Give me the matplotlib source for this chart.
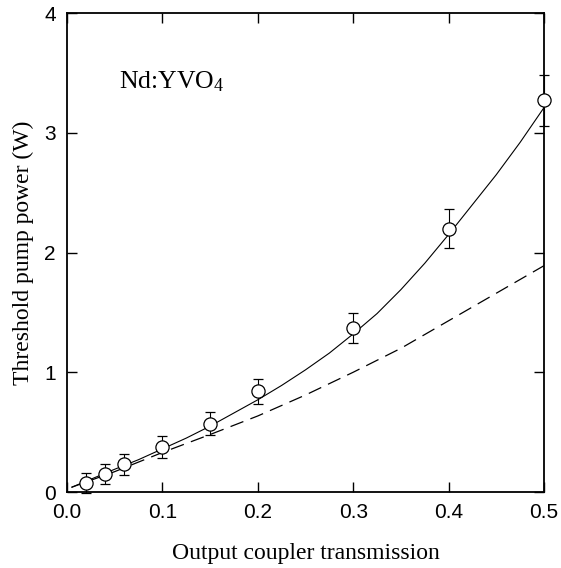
import matplotlib

matplotlib.use("Agg")
import matplotlib.pyplot as plt

# measured points (output coupler transmission vs threshold pump power)
trans = [0.02, 0.04, 0.06, 0.10, 0.15, 0.20, 0.30, 0.40, 0.50]
p_th = [0.075, 0.15, 0.23, 0.375, 0.57, 0.84, 1.37, 2.20, 3.27]
p_err = [0.08, 0.08, 0.085, 0.09, 0.095, 0.105, 0.125, 0.16, 0.21]

# solid curve (fit)
fit_x = [0.005, 0.02, 0.05, 0.075, 0.10, 0.125, 0.15, 0.175, 0.20, 0.225, 0.25,
         0.275, 0.30, 0.325, 0.35, 0.375, 0.40, 0.425, 0.45, 0.475, 0.50]
fit_y = [0.04, 0.09, 0.19, 0.27, 0.36, 0.45, 0.55, 0.66, 0.77, 0.89, 1.02,
         1.16, 1.32, 1.49, 1.69, 1.91, 2.15, 2.40, 2.65, 2.92, 3.21]

# dashed curve
dash_x = [0.005, 0.05, 0.10, 0.15, 0.20, 0.25, 0.30, 0.35, 0.40, 0.45, 0.50]
dash_y = [0.04, 0.17, 0.33, 0.48, 0.635, 0.81, 1.00, 1.20, 1.43, 1.66, 1.89]

x_ticks = [0.0, 0.1, 0.2, 0.3, 0.4, 0.5]
y_ticks = [0, 1, 2, 3, 4]

serif = "Liberation Serif"
plt.rcParams["mathtext.fontset"] = "custom"
plt.rcParams["mathtext.rm"] = serif
plt.rcParams["mathtext.it"] = serif

fig = plt.figure(figsize=(5.61, 5.68), dpi=100)
ax = fig.add_axes([0.1194, 0.1338, 0.8503, 0.8433])

ax.plot(fit_x, fit_y, color="black", lw=0.8)
ax.plot(dash_x, dash_y, color="black", lw=0.9, dashes=(11, 6))
ax.errorbar(
    trans, p_th, yerr=p_err, fmt="o", ms=9.5, mfc="white", mec="black",
    mew=0.9, ecolor="black", elinewidth=0.8, capsize=3.5, capthick=0.8,
    zorder=3, clip_on=False,
)

ax.set_xlim(0.0, 0.5)
ax.set_ylim(0, 4)
ax.set_xticks(x_ticks)
ax.set_xticklabels([f"{t:.1f}" for t in x_ticks])
ax.set_yticks(y_ticks)
ax.set_yticklabels([str(t) for t in y_ticks])

ax.tick_params(direction="in", length=7, width=1.0, top=True, right=True,
               labelsize=15, pad=8)
for label in ax.get_xticklabels() + ax.get_yticklabels():
    label.set_fontfamily("Liberation Sans")
for spine in ax.spines.values():
    spine.set_linewidth(1.3)

ax.set_xlabel("Output coupler transmission", fontsize=17, family=serif,
              labelpad=15)
ax.set_ylabel("Threshold pump power (W)", fontsize=17, family=serif,
              labelpad=7)
ax.text(0.054, 3.37, r"Nd:YVO$_\mathregular{4}$", fontsize=18.5, family=serif,
        ha="left", va="baseline")

fig.savefig("out.png", dpi=100)
